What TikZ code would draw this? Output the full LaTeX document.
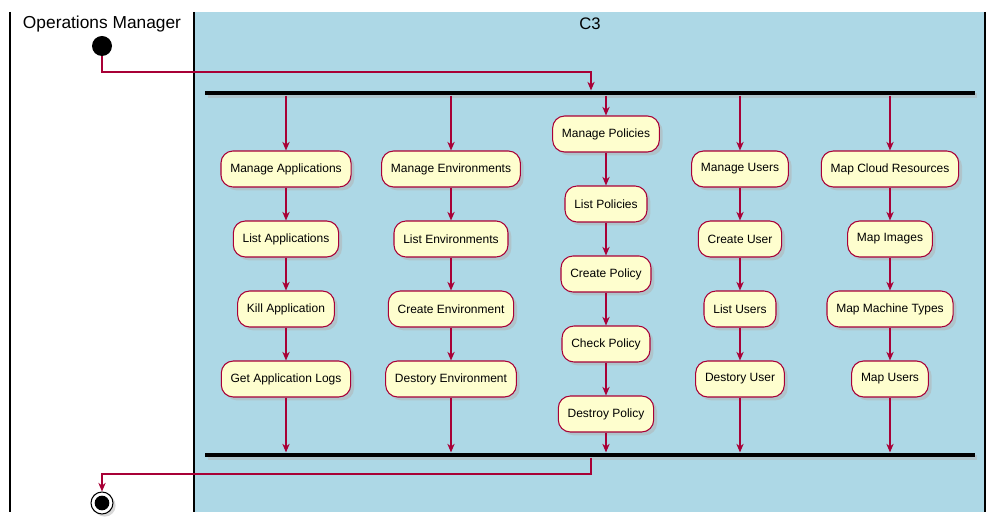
\documentclass[tikz,border=0pt]{standalone}
\usepackage{fontspec}
\setmainfont{Liberation Sans}
\usetikzlibrary{arrows.meta,shadows}
\definecolor{umlred}{HTML}{A80036}
\definecolor{umlfill}{HTML}{FEFECE}
\definecolor{lane}{HTML}{ADD8E6}
\tikzset{
  act/.style={rectangle,rounded corners=9pt,draw=umlred,fill=umlfill,line width=0.8pt,
    font=\fontsize{9}{11}\selectfont,minimum height=27pt,inner xsep=7pt,
    drop shadow={shadow xshift=2.5pt,shadow yshift=-2.5pt,fill=black!30}},
  flow/.style={draw=umlred,line width=0.8pt,-{Stealth[length=6.5pt,width=5.5pt]}},
  bar/.style={rectangle,fill=black,minimum width=577pt,minimum height=3.5pt,inner sep=0pt,
    drop shadow={shadow xshift=2pt,shadow yshift=-2pt,fill=black!30}}
}
\begin{document}
\begin{tikzpicture}[x=0.75pt,y=-0.75pt]
  \useasboundingbox (0,0) rectangle (996,523);
  % swimlanes
  \fill[lane] (194,12) rectangle (985,512);
  \draw[line width=1pt] (10,12) -- (10,512) (194,12) -- (194,512) (985,12) -- (985,512);
  \node[font=\fontsize{13}{15}\selectfont] at (102,24) {Operations Manager};
  \node[font=\fontsize{12.5}{15}\selectfont] at (590,24) {C3};

  \node[circle,fill=black,minimum size=15pt,inner sep=0pt] (start) at (102,46) {};
  \node[bar] (fork) at (590,93) {};
  \node[bar] (join) at (590,455) {};
  \node[circle,draw=black,line width=0.8pt,minimum size=16.5pt,inner sep=0pt,fill=white,
    drop shadow={shadow xshift=2pt,shadow yshift=-2pt,fill=black!30}] (stop) at (102,503) {};
  \fill (stop) circle (5.5pt);

  % column 1
  \node[act] (a1) at (286,169) {Manage Applications};
  \node[act] (a2) at (286,239) {List Applications};
  \node[act] (a3) at (286,309) {Kill Application};
  \node[act] (a4) at (286,379) {Get Application Logs};
  % column 2
  \node[act] (e1) at (451,169) {Manage Environments};
  \node[act] (e2) at (451,239) {List Environments};
  \node[act] (e3) at (451,309) {Create Environment};
  \node[act] (e4) at (451,379) {Destory Environment};
  % column 3
  \node[act] (p1) at (606,134) {Manage Policies};
  \node[act] (p2) at (606,204) {List Policies};
  \node[act] (p3) at (606,274) {Create Policy};
  \node[act] (p4) at (606,344) {Check Policy};
  \node[act] (p5) at (606,414) {Destroy Policy};
  % column 4
  \node[act] (u1) at (740,169) {Manage Users};
  \node[act] (u2) at (740,239) {Create User};
  \node[act] (u3) at (740,309) {List Users};
  \node[act] (u4) at (740,379) {Destory User};
  % column 5
  \node[act] (m1) at (890,169) {Map Cloud Resources};
  \node[act] (m2) at (890,239) {Map Images};
  \node[act] (m3) at (890,309) {Map Machine Types};
  \node[act] (m4) at (890,379) {Map Users};

  \draw[flow] (start) |- (591,72) -- (fork.north -| 591,0);
  \foreach \n in {a1,e1,p1,u1,m1}
    \draw[flow] (fork.south -| \n) -- (\n);
  \foreach \a/\b in {a1/a2,a2/a3,a3/a4,e1/e2,e2/e3,e3/e4,p1/p2,p2/p3,p3/p4,p4/p5,
                     u1/u2,u2/u3,u3/u4,m1/m2,m2/m3,m3/m4}
    \draw[flow] (\a) -- (\b);
  \foreach \n in {a4,e4,p5,u4,m4}
    \draw[flow] (\n) -- (join.north -| \n);
  \draw[flow] (join.south -| 591,0) |- (102,474) -- (stop);
\end{tikzpicture}
\end{document}
